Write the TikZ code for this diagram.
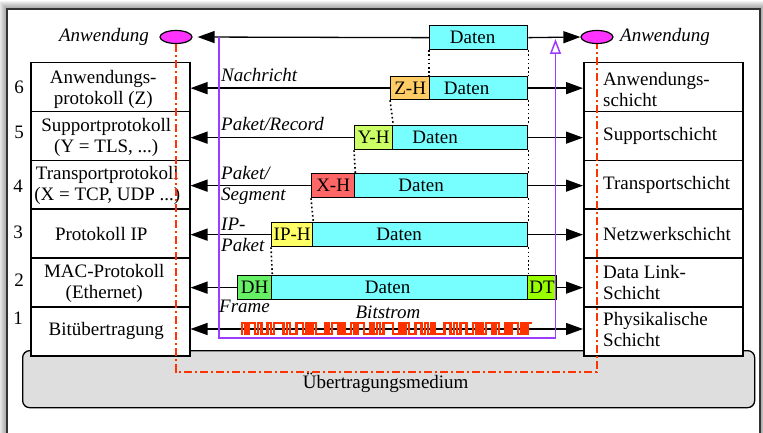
\documentclass[tikz,border=0pt]{standalone}
\usepackage{fontspec}
\setmainfont{Liberation Serif}
\usetikzlibrary{arrows.meta,shapes.geometric}
\definecolor{datacol}{HTML}{77FFFF}
\definecolor{zhcol}{HTML}{FFCC66}
\definecolor{yhcol}{HTML}{CCFF66}
\definecolor{xhcol}{HTML}{FF6666}
\definecolor{iphcol}{HTML}{FFFF66}
\definecolor{dhcol}{HTML}{66F066}
\definecolor{dtcol}{HTML}{99FF00}
\definecolor{appcol}{HTML}{FF33FF}
\definecolor{pathcol}{HTML}{9B3CFF}
\definecolor{wirecol}{HTML}{FF3300}
\definecolor{medcol}{HTML}{DEDEDE}
\tikzset{
  every node/.style={font=\fontsize{19}{21}\selectfont},
  colbox/.style={draw, line width=1.5pt, fill=white, minimum width=159pt,
    minimum height=48.83pt, anchor=north west, inner sep=0pt},
  coltext/.style={align=center, inner sep=0pt},
  rtext/.style={align=left, inner sep=0pt, anchor=west},
  pkt/.style={draw, line width=1.3pt, anchor=north west, inner sep=0pt},
  arr/.style={line width=1.3pt, -{Triangle[length=17pt,width=12pt]}},
  dots/.style={line width=1.6pt, dash pattern=on 1.6pt off 2.6pt},
  lbl/.style={font=\fontsize{19}{21}\selectfont\itshape, inner sep=0pt},
  app/.style={ellipse, draw, line width=1.2pt, fill=appcol, minimum width=32pt,
    minimum height=13pt, inner sep=0pt},
  flow/.style={draw=pathcol, line width=1.5pt},
  wire/.style={draw=wirecol, line width=1.5pt,
    dash pattern=on 8pt off 3pt on 2pt off 3pt},
  bitline/.style={draw=wirecol, line width=2.6pt, line cap=rect},
}
\begin{document}
\begin{tikzpicture}[x=1pt, y=-1pt]
\useasboundingbox (0,0) rectangle (763,433);

% frame with soft shadow
\foreach \k in {1,...,8}
  \fill[black, opacity=0.05] (7-\k,9-\k) rectangle (760+\k,470);
\draw[fill=white, draw=black!80, line width=1.2pt] (7,9) rectangle (760,470);

% transmission medium
\node[draw, line width=1.3pt, fill=medcol, rounded corners=7pt, anchor=north west,
  minimum width=732pt, minimum height=57pt, inner sep=0pt,
  label={[xshift=-3pt, yshift=-4pt]center:Übertragungsmedium}] (med) at (22,350) {};

% protocol stack (left) and layer stack (right)
\node[colbox] (L6) at (30,62) {};
\node[colbox] (L5) at (30,110.83) {};
\node[colbox] (L4) at (30,159.66) {};
\node[colbox] (L3) at (30,208.5) {};
\node[colbox] (L2) at (30,257.33) {};
\node[colbox] (L1) at (30,306.17) {};
\node[colbox] (R6) at (583,62) {};
\node[colbox] (R5) at (583,110.83) {};
\node[colbox] (R4) at (583,159.66) {};
\node[colbox] (R3) at (583,208.5) {};
\node[colbox] (R2) at (583,257.33) {};
\node[colbox] (R1) at (583,306.17) {};

\node[coltext] (L6t) at ([xshift=-7pt,yshift=-2pt]L6.center) {Anwendungs-\\protokoll (Z)};
\node[coltext] (L5t) at ([xshift=-4pt,yshift=-1pt]L5.center) {Supportprotokoll\\(Y = TLS, ...)};
\node[coltext] (L4t) at ([xshift=-3pt,yshift=-1pt]L4.center) {Transportprotokoll\\(X = TCP, UDP ...)};
\node[coltext] (L3t) at ([xshift=-9pt]L3.center) {Protokoll IP};
\node[coltext] (L2t) at ([xshift=-6pt,yshift=-1pt]L2.center) {MAC-Protokoll\\(Ethernet)};
\node[coltext] (L1t) at ([xshift=-4pt]L1.center) {Bitübertragung};

\node[rtext] (R6t) at ([xshift=20pt,yshift=-2pt]R6.west) {Anwendungs-\\schicht};
\node[rtext] (R5t) at ([xshift=20pt]R5.west) {Supportschicht};
\node[rtext] (R4t) at ([xshift=20pt]R4.west) {Transportschicht};
\node[rtext] (R3t) at ([xshift=20pt]R3.west) {Netzwerkschicht};
\node[rtext] (R2t) at ([xshift=20pt]R2.west) {Data Link-\\Schicht};
\node[rtext] (R1t) at ([xshift=20pt,yshift=2pt]R1.west) {Physikalische\\Schicht};

% layer numbers
\node (n6) at (19,87) {6};
\node (n5) at (19,132) {5};
\node (n4) at (18,186) {4};
\node (n3) at (18,232) {3};
\node (n2) at (19,280) {2};
\node (n1) at (18,318) {1};

% applications
\node[app] (appL) at (176,37) {};
\node[app] (appR) at (597,37) {};
\node[lbl, anchor=east] (appLt) at (149,37) {Anwendung};
\node[lbl, anchor=west] (appRt) at (620,37) {Anwendung};

% packets
\node[pkt, fill=datacol, minimum width=98pt, minimum height=24pt,
  label={[xshift=-6pt]center:Daten}] (dtop) at (429,25) {};

\node[pkt, fill=zhcol, minimum width=39pt, minimum height=23pt] (zh) at (390,76) {Z-H};
\node[pkt, fill=datacol, minimum width=98pt, minimum height=23pt,
  label={[xshift=-12pt]center:Daten}] (d6) at (429,76) {};

\node[pkt, fill=yhcol, minimum width=38pt, minimum height=24pt] (yh) at (354,125) {Y-H};
\node[pkt, fill=datacol, minimum width=135pt, minimum height=24pt,
  label={[xshift=-25pt]center:Daten}] (d5) at (392,125) {};

\node[pkt, fill=xhcol, minimum width=43pt, minimum height=24pt] (xh) at (311,173) {X-H};
\node[pkt, fill=datacol, minimum width=173pt, minimum height=24pt,
  label={[xshift=-20pt]center:Daten}] (d4) at (354,173) {};

\node[pkt, fill=iphcol, minimum width=41pt, minimum height=24pt] (iph) at (271,222) {IP-H};
\node[pkt, fill=datacol, minimum width=215pt, minimum height=24pt,
  label={[xshift=-21pt]center:Daten}] (d3) at (312,222) {};

\node[pkt, fill=dhcol, minimum width=34pt, minimum height=24pt] (dh) at (237,275) {DH};
\node[pkt, fill=datacol, minimum width=256pt, minimum height=24pt,
  label={[xshift=-12pt]center:Daten}] (d2) at (271,275) {};
\node[pkt, fill=dtcol, minimum width=29pt, minimum height=24pt] (dt) at (527,275) {DT};

% arrows between the stacks
\draw[arr, shorten >=5pt] (dtop.west) -- (appL.east);
\draw[arr] (dtop.east) -- (appR.west);
\draw[arr] (zh.west) -- (zh.west -| L6.east);
\draw[arr] (d6.east) -- (d6.east -| R6.west);
\draw[arr] (yh.west) -- (yh.west -| L5.east);
\draw[arr] (d5.east) -- (d5.east -| R5.west);
\draw[arr] (xh.west) -- (xh.west -| L4.east);
\draw[arr] (d4.east) -- (d4.east -| R4.west);
\draw[arr] (iph.west) -- (iph.west -| L3.east);
\draw[arr] (d3.east) -- (d3.east -| R3.west);
\draw[arr] (dh.west) -- (dh.west -| L2.east);
\draw[arr] (dt.east) -- (dt.east -| R2.west);
\coordinate (b1) at (386,329);
\draw[arr] (b1) -- (b1 -| L1.east);
\draw[arr] (b1) -- (b1 -| R1.west);

% encapsulation guides
\draw[dots] (dtop.south west) -- (d6.north west);
\draw[dots] (dtop.south east) -- (d6.north east);
\draw[dots] (zh.south west) -- (yh.north east);
\draw[dots] (d6.south east) -- (d5.north east);
\draw[dots] (yh.south west) -- (xh.north east);
\draw[dots] (d5.south east) -- (d4.north east);
\draw[dots] (xh.south west) -- (iph.north east);
\draw[dots] (d4.south east) -- (d3.north east);
\draw[dots] (iph.south west) -- (dh.north east);
\draw[dots] (d3.south east) -- (d2.north east);

% data path through the stacks
\coordinate (pA) at (219,37);
\coordinate (pB) at (219,338);
\coordinate (pC) at (555.5,338);
\coordinate (pD) at (555.5,39);
\draw[flow, -{Triangle[open, length=15pt, width=11pt, fill=white]}]
  (pA) -- (pB) -- (pC) -- (pD);

% physical connection
\coordinate (rb) at (400,372);
\draw[wire] (appL.south) -- (appL.south |- rb) -- (rb -| appR.south) -- (appR.south);

% bit stream
\foreach \b [count=\i from 0, remember=\b as \p (initially 0)] in
  {1,0,1,1,0,1,0,0,1,0, 1,1,1,0,1,0,0,1,1,0, 1,0,1,0,0,0,1,0,1,1,
   0,1,0,0,1,0,1,1,0,0, 1,0,1,0,1,1,1,0,0,1, 0,1,0,0,1,1,0,1,0,1,
   0,0,0,1,1,0,1,0,1,1, 0,0,1,0,1,0,1,1,0,1, 0,0,1,0,1,1,0,1,0,1} {
  \pgfmathsetmacro\xx{242+\i*3.21}
  \pgfmathsetmacro\yy{\b==1 ? 323 : 334}
  \draw[bitline] (\xx,\yy) -- ++(3.21,0);
  \ifnum\b=\p\else \draw[bitline] (\xx,323) -- (\xx,334); \fi
}

% unit names per layer
\node[lbl, anchor=west] (u6) at (221,75) {Nachricht};
\node[lbl, anchor=west] (u5) at (221,124) {Paket/Record};
\node[lbl, anchor=west, align=left] (u4) at (221,185) {Paket/\\Segment};
\node[lbl, anchor=west, align=left] (u3) at (221,235) {IP-\\Paket};
\node[lbl, anchor=west] (u2) at (219,306) {Frame};
\node[lbl] (u1) at (388,312) {Bitstrom};
\end{tikzpicture}
\end{document}
